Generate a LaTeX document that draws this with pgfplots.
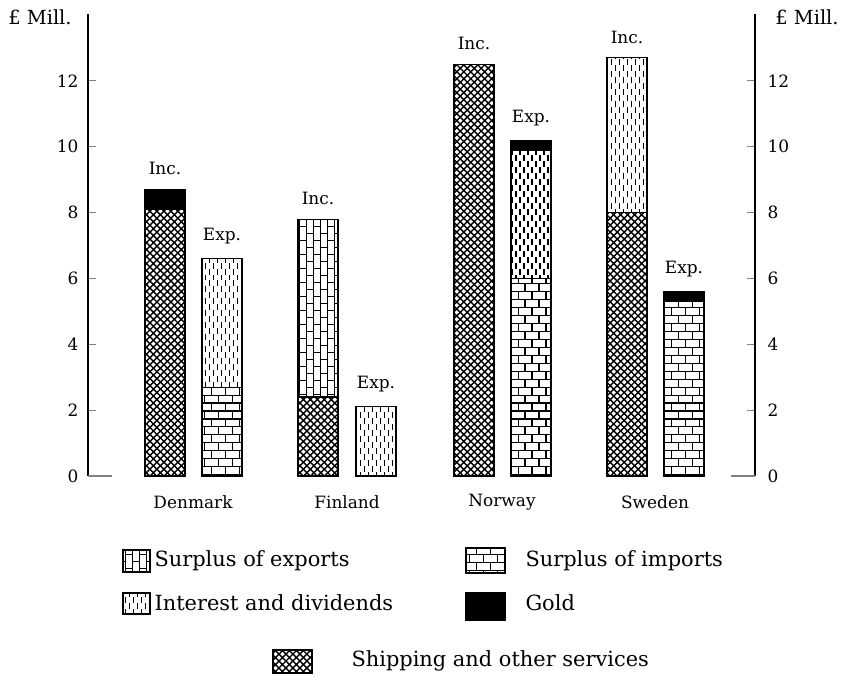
\documentclass[border=0pt]{standalone}
\usepackage{fontspec}
\setmainfont{DejaVu Serif}
\usepackage{pgfplots}
\usepackage{pgfplotstable}
\pgfplotsset{compat=1.18}
\usetikzlibrary{patterns}

\pgfdeclarepatternformonly{xhatch}{\pgfqpoint{-1pt}{-1pt}}{\pgfqpoint{8pt}{8pt}}{\pgfqpoint{7pt}{7pt}}{
  \pgfsetlinewidth{1.4pt}
  \pgfpathmoveto{\pgfqpoint{-0.5pt}{-0.5pt}}\pgfpathlineto{\pgfqpoint{7.5pt}{7.5pt}}
  \pgfpathmoveto{\pgfqpoint{-0.5pt}{7.5pt}}\pgfpathlineto{\pgfqpoint{7.5pt}{-0.5pt}}
  \pgfusepath{stroke}}
\pgfdeclarepatternformonly{hbricks}{\pgfqpoint{-1pt}{-1pt}}{\pgfqpoint{15pt}{17pt}}{\pgfqpoint{14pt}{16pt}}{
  \pgfsetlinewidth{1.1pt}
  \pgfpathmoveto{\pgfqpoint{0pt}{0pt}}\pgfpathlineto{\pgfqpoint{14pt}{0pt}}
  \pgfpathmoveto{\pgfqpoint{0pt}{8pt}}\pgfpathlineto{\pgfqpoint{14pt}{8pt}}
  \pgfpathmoveto{\pgfqpoint{2pt}{0pt}}\pgfpathlineto{\pgfqpoint{2pt}{8pt}}
  \pgfpathmoveto{\pgfqpoint{9pt}{8pt}}\pgfpathlineto{\pgfqpoint{9pt}{16pt}}
  \pgfusepath{stroke}}
\pgfdeclarepatternformonly{vbricks}{\pgfqpoint{-1pt}{-1pt}}{\pgfqpoint{15pt}{15pt}}{\pgfqpoint{14pt}{14pt}}{
  \pgfsetlinewidth{1.1pt}
  \pgfpathmoveto{\pgfqpoint{0pt}{0pt}}\pgfpathlineto{\pgfqpoint{0pt}{14pt}}
  \pgfpathmoveto{\pgfqpoint{7pt}{0pt}}\pgfpathlineto{\pgfqpoint{7pt}{14pt}}
  \pgfpathmoveto{\pgfqpoint{0pt}{2pt}}\pgfpathlineto{\pgfqpoint{7pt}{2pt}}
  \pgfpathmoveto{\pgfqpoint{7pt}{9pt}}\pgfpathlineto{\pgfqpoint{14pt}{9pt}}
  \pgfusepath{stroke}}
\pgfdeclarepatternformonly{vdashes}{\pgfqpoint{-1pt}{-1pt}}{\pgfqpoint{9pt}{13pt}}{\pgfqpoint{8pt}{12pt}}{
  \pgfsetlinewidth{1.2pt}
  \pgfpathmoveto{\pgfqpoint{2pt}{1pt}}\pgfpathlineto{\pgfqpoint{2pt}{7pt}}
  \pgfpathmoveto{\pgfqpoint{6pt}{7pt}}\pgfpathlineto{\pgfqpoint{6pt}{12pt}}
  \pgfpathmoveto{\pgfqpoint{6pt}{0pt}}\pgfpathlineto{\pgfqpoint{6pt}{1pt}}
  \pgfusepath{stroke}}

\pgfplotstableread{
x    ship imports exports interest gold
165  8.1  0       0       0        0.6
222  0    2.7     0       3.9      0
318  2.4  0       5.4     0        0
376  0    0       0       2.1      0
474  12.5 0       0       0        0
531  0    6.0     0       3.9      0.3
627  8.0  0       0       4.7      0
684  0    5.3     0       0        0.3
}\datatable

\tikzset{lab/.style={font=\fontsize{17}{19}\selectfont}}
\pgfplotsset{sideaxis/.style={
  at={(88bp,206bp)}, anchor=south west,
  scale only axis, width=667bp, height=462bp,
  xmin=88, xmax=755, ymin=0, ymax=14.03,
  xtick=\empty,
  ytick={0,2,4,6,8,10,12},
  ytick style={line width=0.8pt},
  major tick length=8bp,
  tick align=inside,
  yticklabel style={font=\fontsize{17}{19}\selectfont},
  /pgf/number format/assume math mode=true,
}}

\begin{document}
\begin{tikzpicture}[x=1bp,y=1bp]
\useasboundingbox (0,0) rectangle (843,682);
\begin{axis}[
  sideaxis,
  separate axis lines,
  x axis line style={draw=none},
  y axis line style={line width=1.6pt},
  yticklabel style={xshift=-6bp},
  extra y ticks={0},
  extra y tick labels={},
  extra y tick style={major tick length=24bp, ytick style={line width=1.2pt}},
  ybar stacked, bar width=40,
  clip=false,
]
\addplot[draw=black, line width=1.1pt, pattern=xhatch] table[x=x,y=ship]{\datatable};
\addplot[draw=black, line width=1.1pt, pattern=hbricks] table[x=x,y=imports]{\datatable};
\addplot[draw=black, line width=1.1pt, pattern=vbricks] table[x=x,y=exports]{\datatable};
\addplot[draw=black, line width=1.1pt, pattern=vdashes] table[x=x,y=interest]{\datatable};
\addplot[draw=black, line width=1.1pt, fill=black] table[x=x,y=gold]{\datatable};

\node[lab, anchor=south, yshift=11bp] at (axis cs:165,8.7) {Inc.};
\node[lab, anchor=south, yshift=11bp] at (axis cs:222,6.6) {Exp.};
\node[lab, anchor=south, yshift=11bp] at (axis cs:318,7.8) {Inc.};
\node[lab, anchor=south, yshift=11bp] at (axis cs:376,2.1) {Exp.};
\node[lab, anchor=south, yshift=11bp] at (axis cs:474,12.5) {Inc.};
\node[lab, anchor=south, yshift=11bp] at (axis cs:531,10.2) {Exp.};
\node[lab, anchor=south, yshift=11bp] at (axis cs:627,12.7) {Inc.};
\node[lab, anchor=south, yshift=11bp] at (axis cs:684,5.6) {Exp.};
\node[lab, yshift=-26bp] at (axis cs:193,0) {Denmark};
\node[lab, yshift=-26bp] at (axis cs:347,0) {Finland};
\node[lab, yshift=-26bp] at (axis cs:502,0) {Norway};
\node[lab, yshift=-26bp] at (axis cs:655,0) {Sweden};
\end{axis}
\begin{axis}[
  sideaxis,
  axis line style={draw=none},
  ytick style={draw=none},
  yticklabel pos=right,
  yticklabel style={xshift=9bp},
]
\addplot[draw=none] coordinates {(100,0)};
\end{axis}
\node[font=\fontsize{19.5}{21}\selectfont] at (40,665) {£ Mill.};
\node[font=\fontsize{19.5}{21}\selectfont] at (807,665) {£ Mill.};

\draw[line width=1.1pt, pattern=vbricks] (123,110) rectangle (150,132);
\draw[line width=1.1pt, pattern=vdashes] (123,68) rectangle (150,89);
\draw[line width=1.1pt, pattern=hbricks] (466,109) rectangle (505,134);
\draw[line width=1.1pt, fill=black] (466,62) rectangle (505,89);
\draw[line width=1.1pt, pattern=xhatch] (273,9) rectangle (312,32);
\node[font=\fontsize{21}{23}\selectfont, anchor=west] at (151,121) {Surplus of exports};
\node[font=\fontsize{21}{23}\selectfont, anchor=west] at (151,79) {Interest and dividends};
\node[font=\fontsize{21}{23}\selectfont, anchor=west] at (522,121) {Surplus of imports};
\node[font=\fontsize{21}{23}\selectfont, anchor=west] at (522,79) {Gold};
\node[font=\fontsize{21}{23}\selectfont, anchor=west] at (348,21) {Shipping and other services};
\end{tikzpicture}
\end{document}
